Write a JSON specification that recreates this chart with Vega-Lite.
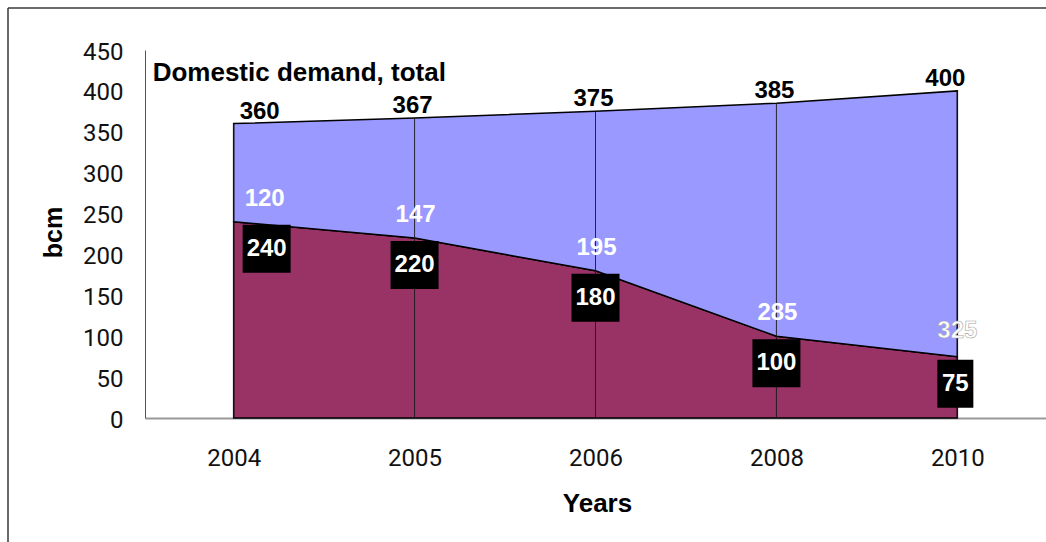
{
  "$schema": "https://vega.github.io/schema/vega-lite/v6.json",
  "width": 1038,
  "height": 534,
  "autosize": {"type": "none"},
  "padding": {"left": 8, "top": 8, "right": 0, "bottom": 0},
  "background": "white",
  "config": {
    "view": {"stroke": "#3a3a3a", "strokeWidth": 1.5, "strokeDash": [1038, 1572, 534, 0]},
    "font": "Liberation Sans"
  },
  "data": {
    "values": [
      {"year": "2004", "bottom": 240, "top": 120, "total": 360},
      {"year": "2005", "bottom": 220, "top": 147, "total": 367},
      {"year": "2006", "bottom": 180, "top": 195, "total": 375},
      {"year": "2008", "bottom": 100, "top": 285, "total": 385},
      {"year": "2010", "bottom": 75, "top": 325, "total": 400}
    ]
  },
  "encoding": {
    "x": {
      "field": "year",
      "type": "ordinal",
      "scale": {"type": "point", "range": [137, 1038], "padding": 0.49},
      "axis": {
        "title": "Years",
        "labelAngle": 0,
        "ticks": false,
        "tickSize": 0,
        "grid": false,
        "domainColor": "#999999",
        "domainWidth": 2,
        "labelFont": "Roboto",
        "labelFontSize": 24,
        "labelColor": "#111111",
        "labelPadding": 28,
        "offset": -124,
        "titleFont": "Liberation Sans",
        "titleFontSize": 26,
        "titleFontWeight": "bold",
        "titleColor": "black",
        "titleX": 589,
        "titleY": 85,
        "titleBaseline": "middle",
        "titleAlign": "center"
      }
    }
  },
  "layer": [
    {
      "mark": {"type": "area", "fill": "#993366", "stroke": "black", "strokeWidth": 1.5},
      "encoding": {
        "y": {
          "field": "bottom",
          "type": "quantitative",
          "scale": {"domain": [0, 450], "range": [410, 42], "nice": false},
          "axis": {
            "title": "bcm",
            "values": [0, 50, 100, 150, 200, 250, 300, 350, 400, 450],
            "grid": false,
            "ticks": false,
            "tickSize": 0,
            "domainColor": "#555555",
            "domainWidth": 1,
            "labelFont": "Roboto",
            "labelFontSize": 24,
            "labelColor": "#111111",
            "labelPadding": 22,
            "labelOffset": 2,
            "offset": -137,
            "titleFont": "Liberation Sans",
            "titleFontSize": 25,
            "titleFontWeight": "bold",
            "titleColor": "black",
            "titleX": -92,
            "titleY": 224,
            "titleAngle": -90,
            "titleBaseline": "middle",
            "titleAlign": "center"
          }
        }
      }
    },
    {
      "mark": {"type": "area", "fill": "#9999FF", "stroke": "black", "strokeWidth": 1.5},
      "encoding": {
        "y": {"field": "total", "type": "quantitative"},
        "y2": {"field": "bottom"}
      }
    },
    {
      "mark": {"type": "rule", "stroke": "#1a1a1a", "strokeWidth": 0.9},
      "encoding": {
        "y": {"field": "total", "type": "quantitative"},
        "y2": {"datum": 0}
      }
    },
    {
      "transform": [{"filter": "datum.year != '2004' && datum.year != '2010'"}],
      "mark": {"type": "text", "fontSize": 24, "fontWeight": "bold", "color": "black", "baseline": "alphabetic", "dy": -5, "dx": -2},
      "encoding": {
        "y": {"field": "total", "type": "quantitative"},
        "text": {"field": "total"}
      }
    },
    {
      "transform": [{"filter": "datum.year == '2004'"}],
      "mark": {"type": "text", "fontSize": 24, "fontWeight": "bold", "color": "black", "baseline": "alphabetic", "dy": -5, "dx": 26},
      "encoding": {
        "y": {"field": "total", "type": "quantitative"},
        "text": {"field": "total"}
      }
    },
    {
      "transform": [{"filter": "datum.year == '2010'"}],
      "mark": {"type": "text", "fontSize": 24, "fontWeight": "bold", "color": "black", "baseline": "alphabetic", "dy": -5, "dx": -12},
      "encoding": {
        "y": {"field": "total", "type": "quantitative"},
        "text": {"field": "total"}
      }
    },
    {
      "transform": [{"filter": "datum.year != '2004' && datum.year != '2010'"}],
      "mark": {"type": "text", "fontSize": 24, "fontWeight": "bold", "color": "white", "baseline": "middle", "dy": -23, "dx": 1},
      "encoding": {
        "y": {"field": "bottom", "type": "quantitative"},
        "text": {"field": "top"}
      }
    },
    {
      "transform": [{"filter": "datum.year == '2010'"}],
      "mark": {"type": "text", "fontSize": 24, "fontWeight": "bold", "color": "white", "stroke": "#a8a8a8", "strokeWidth": 0.6, "baseline": "middle", "dy": -26, "dx": 0},
      "encoding": {
        "y": {"field": "bottom", "type": "quantitative"},
        "text": {"field": "top"}
      }
    },
    {
      "transform": [{"filter": "datum.year == '2004'"}],
      "mark": {"type": "text", "fontSize": 24, "fontWeight": "bold", "color": "white", "baseline": "middle", "dy": -23, "dx": 31},
      "encoding": {
        "y": {"field": "bottom", "type": "quantitative"},
        "text": {"field": "top"}
      }
    },
    {
      "transform": [{"filter": "datum.year != '2004' && datum.bottom >= 100"}],
      "mark": {"type": "point", "shape": "square", "filled": true, "fill": "black", "opacity": 1, "strokeWidth": 0, "size": 2304, "yOffset": 27},
      "encoding": {
        "y": {"field": "bottom", "type": "quantitative"}
      }
    },
    {
      "transform": [{"filter": "datum.year == '2004'"}],
      "mark": {"type": "point", "shape": "square", "filled": true, "fill": "black", "opacity": 1, "strokeWidth": 0, "size": 2304, "yOffset": 27, "xOffset": 33},
      "encoding": {
        "y": {"field": "bottom", "type": "quantitative"}
      }
    },
    {
      "transform": [{"filter": "datum.bottom < 100"}],
      "mark": {"type": "point", "shape": "M-0.75,-1L0.75,-1L0.75,1L-0.75,1Z", "filled": true, "fill": "black", "opacity": 1, "strokeWidth": 0, "size": 2304, "yOffset": 27, "xOffset": -2},
      "encoding": {
        "y": {"field": "bottom", "type": "quantitative"}
      }
    },
    {
      "transform": [{"filter": "datum.year != '2004' && datum.year != '2010'"}],
      "mark": {"type": "text", "fontSize": 24, "fontWeight": "bold", "color": "white", "baseline": "middle", "dy": 27},
      "encoding": {
        "y": {"field": "bottom", "type": "quantitative"},
        "text": {"field": "bottom"}
      }
    },
    {
      "transform": [{"filter": "datum.year == '2004'"}],
      "mark": {"type": "text", "fontSize": 24, "fontWeight": "bold", "color": "white", "baseline": "middle", "dy": 27, "dx": 33},
      "encoding": {
        "y": {"field": "bottom", "type": "quantitative"},
        "text": {"field": "bottom"}
      }
    },
    {
      "transform": [{"filter": "datum.year == '2010'"}],
      "mark": {"type": "text", "fontSize": 24, "fontWeight": "bold", "color": "white", "baseline": "middle", "dy": 27, "dx": -2},
      "encoding": {
        "y": {"field": "bottom", "type": "quantitative"},
        "text": {"field": "bottom"}
      }
    },
    {
      "data": {"values": [{"t": "Domestic demand, total"}]},
      "mark": {"type": "text", "align": "left", "baseline": "middle", "dx": -81, "fontSize": 26, "fontWeight": "bold", "color": "black"},
      "encoding": {
        "x": {"datum": "2004"},
        "y": {"datum": 422},
        "text": {"field": "t"}
      }
    }
  ]
}
